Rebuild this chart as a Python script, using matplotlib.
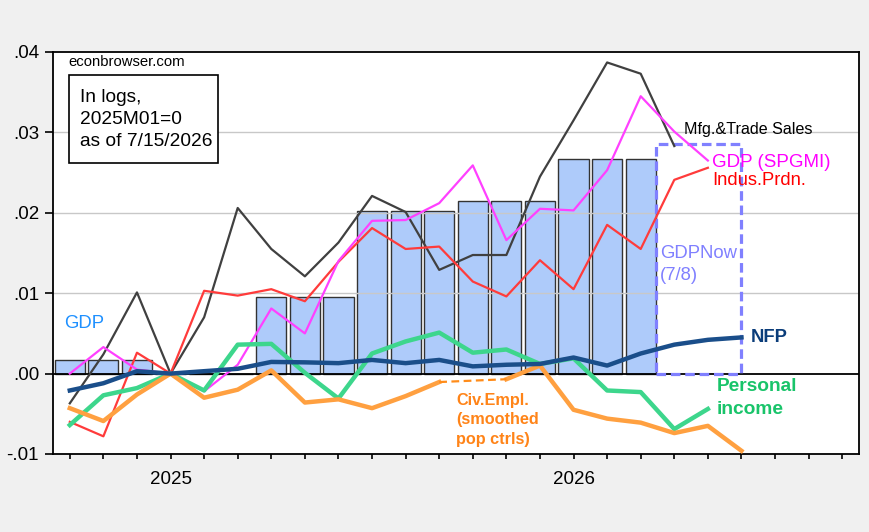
import numpy as np
import pandas as pd
import matplotlib
matplotlib.use("Agg")
import matplotlib.pyplot as plt
from matplotlib.patches import Rectangle
from matplotlib.ticker import FuncFormatter

plt.rcParams['font.family'] = ['Liberation Sans', 'DejaVu Sans']

# log levels, 2025M01 = 0, monthly 2024M10..2026M06
months = pd.period_range('2024-10', '2026-06', freq='M')
nfp = [-0.0021, -0.0012, 0.0003, 0.0, 0.0003, 0.0006, 0.00145, 0.0014, 0.0013, 0.0017, 0.0013,
       0.0017, 0.0009, 0.0011, 0.0012, 0.0020, 0.0010, 0.0025, 0.0036, 0.0042, 0.0045]
civ_empl = [-0.0043, -0.0059, -0.0026, 0.0, -0.0030, -0.0020, 0.0004, -0.0036, -0.0032, -0.0043, -0.0028,
            -0.00105, np.nan, -0.0007, 0.0010, -0.0045, -0.0056, -0.0061, -0.0074, -0.0065, -0.0096]
pers_inc = [-0.0064, -0.0027, -0.0018, 0.0, -0.0021, 0.0036, 0.0037, 0.0001, -0.0031, 0.0025, 0.0040,
            0.0051, 0.0026, 0.0030, 0.0012, 0.0019, -0.0021, -0.0023, -0.0069, -0.0044, np.nan]
gdp_spgmi = [0.0, 0.0033, 0.0005, 0.0, -0.0022, 0.0011, 0.0081, 0.0050, 0.0140, 0.0190, 0.0191,
             0.0212, 0.0259, 0.0166, 0.0205, 0.0203, 0.0253, 0.0345, 0.0301, 0.0265, np.nan]
indus_prdn = [-0.0060, -0.0078, 0.0026, 0.0, 0.0103, 0.0097, 0.0105, 0.0090, 0.0139, 0.0181, 0.0155,
              0.0158, 0.01145, 0.0096, 0.0141, 0.0105, 0.0185, 0.0155, 0.0241, 0.0256, np.nan]
mfg_sales = [-0.0037, 0.0024, 0.0101, 0.0, 0.0070, 0.0206, 0.0155, 0.0121, 0.0163, 0.0221, 0.0201,
             0.0129, 0.01475, 0.01475, 0.0245, 0.0315, 0.0387, 0.0373, 0.0283, np.nan, np.nan]

# quarterly GDP (shown as monthly bars) and GDPNow
quarters = pd.period_range('2024Q4', '2026Q1', freq='Q')
gdp = [0.0017, 0.0, 0.0095, 0.0202, 0.02145, 0.0267]
gdpnow_q = pd.Period('2026Q2', freq='Q')
gdpnow = 0.0286

axis_months = pd.period_range('2024-10', '2026-09', freq='M')
pos = {p: i for i, p in enumerate(axis_months)}
x = np.array([pos[p] for p in months])

fig = plt.figure(figsize=(8.7, 5.32), dpi=100, facecolor='#F0F0F0')
ax = fig.add_axes([53/870, 1-454/532, 806/870, 402/532])

# gdp bars
bx, bh = [], []
for q, v in zip(quarters, gdp):
    m0 = q.asfreq('M', 's')
    for k in range(3):
        bx.append(pos[m0 + k])
        bh.append(v)
ax.bar(bx, bh, width=0.9, color='#AECBFA', edgecolor='#333333', linewidth=1, zorder=2)

# gdpnow box
m0 = pos[gdpnow_q.asfreq('M', 's')]
ax.add_patch(Rectangle((m0 - 0.55, 0), 2.55, gdpnow, fill=False, edgecolor='#8080FF',
                       linewidth=2.3, linestyle=(0, (3, 1.5)), zorder=3))

for yv in [0.01, 0.02, 0.03]:
    ax.axhline(yv, color='#C8C8C8', linewidth=1, zorder=2.5)
ax.axhline(0, color='black', linewidth=1.3, zorder=2.6)

ax.plot(x, mfg_sales, color='#404040', linewidth=1.6, zorder=4)
ax.plot(x, indus_prdn, color='#FF3B3B', linewidth=1.6, zorder=4)
ax.plot(x, gdp_spgmi, color='#FF40FF', linewidth=1.6, zorder=4)
ax.plot(x, pers_inc, color='#3DD68C', linewidth=3.2, zorder=5)
ce = pd.Series(civ_empl, index=x)
ax.plot(x, ce, color='#FFA040', linewidth=3.2, zorder=5)
# dashed bridge over missing months
miss = ce[ce.isna()].index
for i in miss:
    ax.plot([i - 1, i + 1], [ce[i - 1], ce[i + 1]], color='#FF8C1A', linewidth=1.6,
            linestyle=(0, (3.5, 2)), zorder=5)
ax.plot(x, nfp, color='#1A4E8A', linewidth=3.2, zorder=6)

# labels
ax.text(-0.17, 0.0062, 'GDP', color='#1E90FF', fontsize=13.3, va='center')
ax.text(18.3, 0.0304, 'Mfg.&Trade Sales', color='black', fontsize=11.6, va='center')
ax.text(19.11, 0.0262, 'GDP (SPGMI)', color='#FF00FF', fontsize=13.5, va='center')
ax.text(19.13, 0.0240, 'Indus.Prdn.', color='#FF0000', fontsize=13.2, va='center')
ax.text(17.57, 0.0136, 'GDPNow\n(7/8)', color='#8080FF', fontsize=13.3, va='center', linespacing=1.42)
ax.text(20.27, 0.0045, 'NFP', color='#0B3D7A', fontsize=13.2, fontweight='bold', va='center')
ax.text(19.26, -0.00305, 'Personal\nincome', color='#19C46A', fontsize=13.8, fontweight='bold',
        va='center', linespacing=1.42)
ax.text(11.5, -0.00577, 'Civ.Empl.\n(smoothed\npop ctrls)', color='#FF8418', fontsize=11.7,
        fontweight='bold', va='center', linespacing=1.4)

ax.text(0.0186, 0.975, 'econbrowser.com', transform=ax.transAxes, fontsize=10.7, va='center')
ax.add_patch(Rectangle((0.0202, 0.7231), 0.1849, 0.2204, transform=ax.transAxes, facecolor='white',
                       edgecolor='black', linewidth=1.2, zorder=7))
ax.text(0.0336, 0.833, 'In logs,\n2025M01=0\nas of 7/15/2026', transform=ax.transAxes,
        fontsize=13.8, va='center', linespacing=1.38, zorder=8)

ax.set_xlim(-0.5, len(axis_months) - 0.5)
ax.set_ylim(-0.01, 0.04)
ax.set_yticks([-0.01, 0.0, 0.01, 0.02, 0.03, 0.04])
ax.yaxis.set_major_formatter(FuncFormatter(lambda v, p: f"{v:.2f}".replace("0.", ".")))
ax.set_xticks(range(len(axis_months)))
ax.set_xticklabels([str(p.year) if p.month == 1 else '' for p in axis_months])
ax.tick_params(axis='y', direction='out', length=6, width=1.2, labelsize=13.5, pad=4)
ax.tick_params(axis='x', direction='out', length=3.5, width=1.2, labelsize=13.5, pad=9)
for s in ax.spines.values():
    s.set_linewidth(1.3)

fig.savefig('out.png', dpi=100, facecolor=fig.get_facecolor())
